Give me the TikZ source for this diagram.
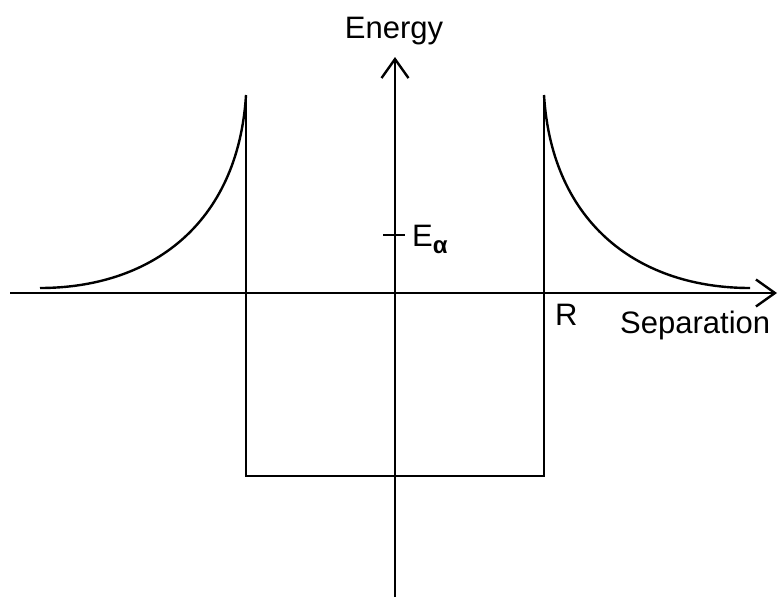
\documentclass[tikz,border=0pt]{standalone}
\usepackage{fontspec}
\setmainfont{Liberation Sans}
\usetikzlibrary{arrows.meta}
\begin{document}
\begin{tikzpicture}[x=1pt,y=-1pt,
  ln/.style={line width=2.4pt,line cap=butt},
  axis/.style={ln,-{Straight Barb[length=19pt,width=27pt,line width=2.4pt]}},
  lbl/.style={inner sep=0pt,font=\fontsize{31}{31}\selectfont}]
\useasboundingbox (0,0) rectangle (781,597);
% axes
\coordinate (xs) at (10,293);
\coordinate (xe) at (777,293);
\coordinate (ys) at (395,597);
\coordinate (ye) at (395,57);
\draw[axis] (xs) -- (xe);
\draw[axis] (ys) -- (ye);
% well
\coordinate (lt) at (246,95);
\coordinate (lb) at (246,476);
\coordinate (rb) at (544,476);
\coordinate (rt) at (544,95);
\draw[ln,line join=miter] (lt) -- (lb) -- (rb) -- (rt);
% barriers
\coordinate (re) at (750,288);
\coordinate (le) at (40,288);
\draw[ln] (rt) .. controls (552,225) and (640,288) .. (re);
\draw[ln] (lt) .. controls (238,225) and (150,288) .. (le);
% tick
\coordinate (t1) at (383,235);
\coordinate (t2) at (405,235);
\draw[ln] (t1) -- (t2);
% labels
\node[lbl,anchor=base] (energy) at (394,38) {Energy};
\node[lbl,anchor=base west] (ealpha) at (412,246) {E\raisebox{-7pt}{\fontsize{24}{24}\selectfont\bfseries α}};
\node[lbl,anchor=base west] (r) at (555,325) {R};
\node[lbl,anchor=base west] (sep) at (620,333) {Separation};
\end{tikzpicture}
\end{document}
